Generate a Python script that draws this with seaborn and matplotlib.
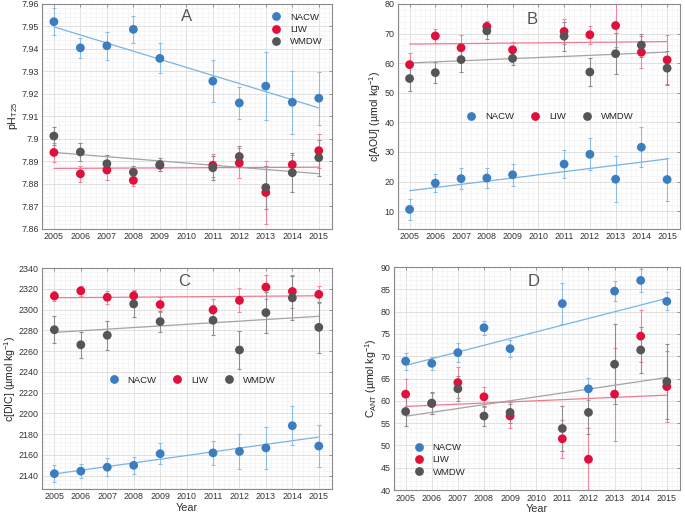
#Import packages
import numpy as np
import pandas as pd
import matplotlib
matplotlib.use("Agg")
import matplotlib.pyplot as plt
import seaborn as sns
from matplotlib.ticker import AutoMinorLocator, FuncFormatter

#Years of the cruises (no 2010)
years = [2005, 2006, 2007, 2008, 2009, 2011, 2012, 2013, 2014, 2015]
masses = ["NACW", "LIW", "WMDW"]

#Panel A: pH T25
ph_nacw = [7.9521, 7.9405, 7.9414, 7.9487, 7.9358, 7.9257, 7.9160, 7.9235, 7.9163, 7.9181]
ph_nacw_err = [0.0060, 0.0045, 0.0063, 0.0060, 0.0067, 0.0093, 0.0072, 0.0150, 0.0140, 0.0118]
ph_liw = [7.8940, 7.8845, 7.8862, 7.8816, 7.8883, 7.8883, 7.8893, 7.8762, 7.8886, 7.8948]
ph_liw_err = [0.0042, 0.0036, 0.0043, 0.0024, 0.0025, 0.0050, 0.0068, 0.0138, 0.0044, 0.0075]
ph_wmdw = [7.9013, 7.8942, 7.8890, 7.8852, 7.8886, 7.8872, 7.8922, 7.8784, 7.8850, 7.8917]
ph_wmdw_err = [0.0042, 0.0040, 0.0040, 0.0030, 0.0030, 0.0053, 0.0045, 0.0095, 0.0087, 0.0080]

#Panel B: c[AOU]
aou_nacw = [10.6, 19.5, 21.0, 21.2, 22.3, 25.9, 29.2, 20.8, 31.6, 20.7]
aou_nacw_err = [3.5, 3.0, 3.6, 3.4, 3.8, 4.8, 5.4, 7.8, 6.8, 7.4]
aou_liw = [59.5, 69.2, 65.2, 72.4, 64.5, 70.7, 69.6, 72.7, 63.7, 61.1]
aou_liw_err = [4.0, 2.4, 4.3, 1.8, 2.6, 4.2, 3.0, 7.3, 5.5, 8.3]
aou_wmdw = [54.8, 56.8, 61.2, 70.9, 61.6, 69.1, 57.0, 63.2, 66.1, 58.3]
aou_wmdw_err = [4.3, 3.5, 4.2, 2.6, 2.2, 4.9, 4.8, 6.9, 3.9, 5.7]

#Panel C: c[DIC]
dic_nacw = [2141.8, 2144.2, 2148.0, 2149.8, 2161.0, 2161.8, 2163.2, 2166.6, 2188.0, 2168.4]
dic_nacw_err = [8, 6.5, 8.5, 8, 10, 11.5, 17, 20, 19, 20]
dic_liw = [2313.0, 2318.0, 2311.8, 2313.2, 2304.8, 2299.6, 2308.8, 2321.6, 2317.4, 2314.6]
dic_liw_err = [5, 5, 6.5, 6, 7, 11, 11.5, 11.8, 15.5, 8]
dic_wmdw = [2280.5, 2266.0, 2275.2, 2305.4, 2288.4, 2289.6, 2261.0, 2297.0, 2311.2, 2282.8]
dic_wmdw_err = [12.8, 12.8, 14, 12.5, 10, 14.5, 18, 19.5, 21, 24.5]

#Panel D: C ANT
ant_nacw = [68.9, 68.4, 70.8, 76.4, 71.7, 81.8, 62.7, 84.6, 87.0, 82.3]
ant_nacw_err = [1.9, 1.4, 2.2, 1.6, 1.9, 4.6, 2.5, 2.2, 2.5, 2.0]
ant_liw = [61.5, 59.4, 64.1, 60.9, 56.6, 51.5, 46.9, 61.5, 74.5, 63.2]
ant_liw_err = [3.4, 2.4, 3.5, 2.2, 2.6, 4.3, 7.0, 10.4, 5.8, 8.0]
ant_wmdw = [57.6, 59.5, 62.7, 56.6, 57.4, 53.8, 57.4, 68.2, 71.4, 64.3]
ant_wmdw_err = [3.2, 2.4, 2.8, 2.3, 2.4, 5.0, 4.8, 9.0, 5.2, 8.4]

#Colours
point_colours = {"NACW": "#3b7dbf", "LIW": "#e0103a", "WMDW": "#555555"}
line_colours = {"NACW": "#7ab4e4", "LIW": "#ef7a90", "WMDW": "#a3a3a3"}
err_colours = {"NACW": "#8cbde6", "LIW": "#f08498", "WMDW": "#8e8e8e"}

#Change style
sns.set_style("whitegrid")
plt.rcParams["font.family"] = ["Liberation Sans", "DejaVu Sans"]
plt.rcParams["mathtext.fontset"] = "custom"
plt.rcParams["mathtext.rm"] = "Liberation Sans"
plt.rcParams["mathtext.it"] = "Liberation Sans:italic"


#Build a long dataframe for one panel
def make_df(vals, errs):
    parts = []
    for m, v, e in zip(masses, vals, errs):
        parts.append(pd.DataFrame({"Year": years, "Value": v, "Err": e, "Mass": m}))
    return pd.concat(parts, ignore_index=True)


#A function to draw one panel
def plot_panel(ax, df, ylim, yticks, ylabel, letter, letter_pos, leg_kws, xlabel=True):
    for m in masses:
        d = df[df["Mass"] == m]
        ax.errorbar(d["Year"], d["Value"], yerr=d["Err"], fmt="none",
                    ecolor=err_colours[m], elinewidth=0.8, capsize=1.6,
                    capthick=0.8, zorder=2)
        sns.regplot(ax=ax, data=d, x="Year", y="Value", scatter=False,
                    ci=None, truncate=True,
                    line_kws={"color": line_colours[m], "lw": 0.9, "zorder": 3})
    sns.scatterplot(ax=ax, data=df, x="Year", y="Value", hue="Mass",
                    hue_order=masses, palette=point_colours, s=40,
                    linewidth=0, zorder=4)
    ax.set_xlim(2004.55, 2015.5)
    ax.set_ylim(*ylim)
    ax.set_xticks(range(2005, 2016))
    ax.set_yticks(yticks)
    ax.yaxis.set_major_formatter(FuncFormatter(lambda v, p: f"{round(v, 3):g}"))
    ax.xaxis.set_minor_locator(AutoMinorLocator(5))
    ax.yaxis.set_minor_locator(AutoMinorLocator(5))
    ax.grid(which="major", color="#dcdcdc", lw=0.6)
    ax.grid(which="minor", color="#f0f0f0", lw=0.4)
    ax.set_axisbelow(True)
    ax.tick_params(which="major", direction="in", length=2.5, width=0.6,
                   color="#888888", labelsize=6.4, labelcolor="#333333",
                   top=True, right=True, pad=2.5)
    for s in ax.spines.values():
        s.set_color("#8a8a8a")
        s.set_linewidth(0.8)
    ax.set_ylabel(ylabel, fontsize=7.6, color="#222222", labelpad=1)
    ax.set_xlabel("Year" if xlabel else "", fontsize=7.8, color="#333333", labelpad=1)
    ax.text(letter_pos[0], letter_pos[1], letter, transform=ax.transAxes,
            ha="center", va="center", fontsize=12, color="#555555")
    sns.move_legend(ax, title=None, frameon=False, fontsize=6.8,
                    handletextpad=0.5, labelspacing=0.35, borderpad=0.2,
                    **leg_kws)


fig = plt.figure(figsize=(6.85, 5.18), dpi=100)
axA = fig.add_axes([0.0613, 0.558, 0.4234, 0.4344])
axB = fig.add_axes([0.581, 0.558, 0.4117, 0.4344])
axC = fig.add_axes([0.0620, 0.056, 0.4227, 0.4266])
axD = fig.add_axes([0.575, 0.054, 0.4175, 0.4305])

plot_panel(axA, make_df([ph_nacw, ph_liw, ph_wmdw], [ph_nacw_err, ph_liw_err, ph_wmdw_err]),
           (7.86, 7.96), np.arange(7.86, 7.961, 0.01), r"pH$_{\mathrm{T25}}$", "A", (0.5, 0.942),
           {"loc": "upper right", "bbox_to_anchor": (0.99, 0.99)}, xlabel=False)
plot_panel(axB, make_df([aou_nacw, aou_liw, aou_wmdw], [aou_nacw_err, aou_liw_err, aou_wmdw_err]),
           (4, 80), range(10, 81, 10), r"c[AOU] (µmol kg$^{\mathrm{-1}}$)", "B", (0.475, 0.933),
           {"loc": "center", "bbox_to_anchor": (0.53, 0.5), "ncol": 3, "columnspacing": 1.2}, xlabel=False)
plot_panel(axC, make_df([dic_nacw, dic_liw, dic_wmdw], [dic_nacw_err, dic_liw_err, dic_wmdw_err]),
           (2127, 2340), range(2140, 2341, 20), r"c[DIC] (µmol kg$^{\mathrm{-1}}$)", "C", (0.49, 0.937),
           {"loc": "center", "bbox_to_anchor": (0.51, 0.493), "ncol": 3, "columnspacing": 1.2})
plot_panel(axD, make_df([ant_nacw, ant_liw, ant_wmdw], [ant_nacw_err, ant_liw_err, ant_wmdw_err]),
           (40, 90), range(40, 91, 5), r"C$_{\mathrm{ANT}}$ (µmol kg$^{\mathrm{-1}}$)", "D", (0.49, 0.933),
           {"loc": "lower left", "bbox_to_anchor": (0.03, 0.03)})

#Save the figure
fig.savefig("out.png", dpi=100)
